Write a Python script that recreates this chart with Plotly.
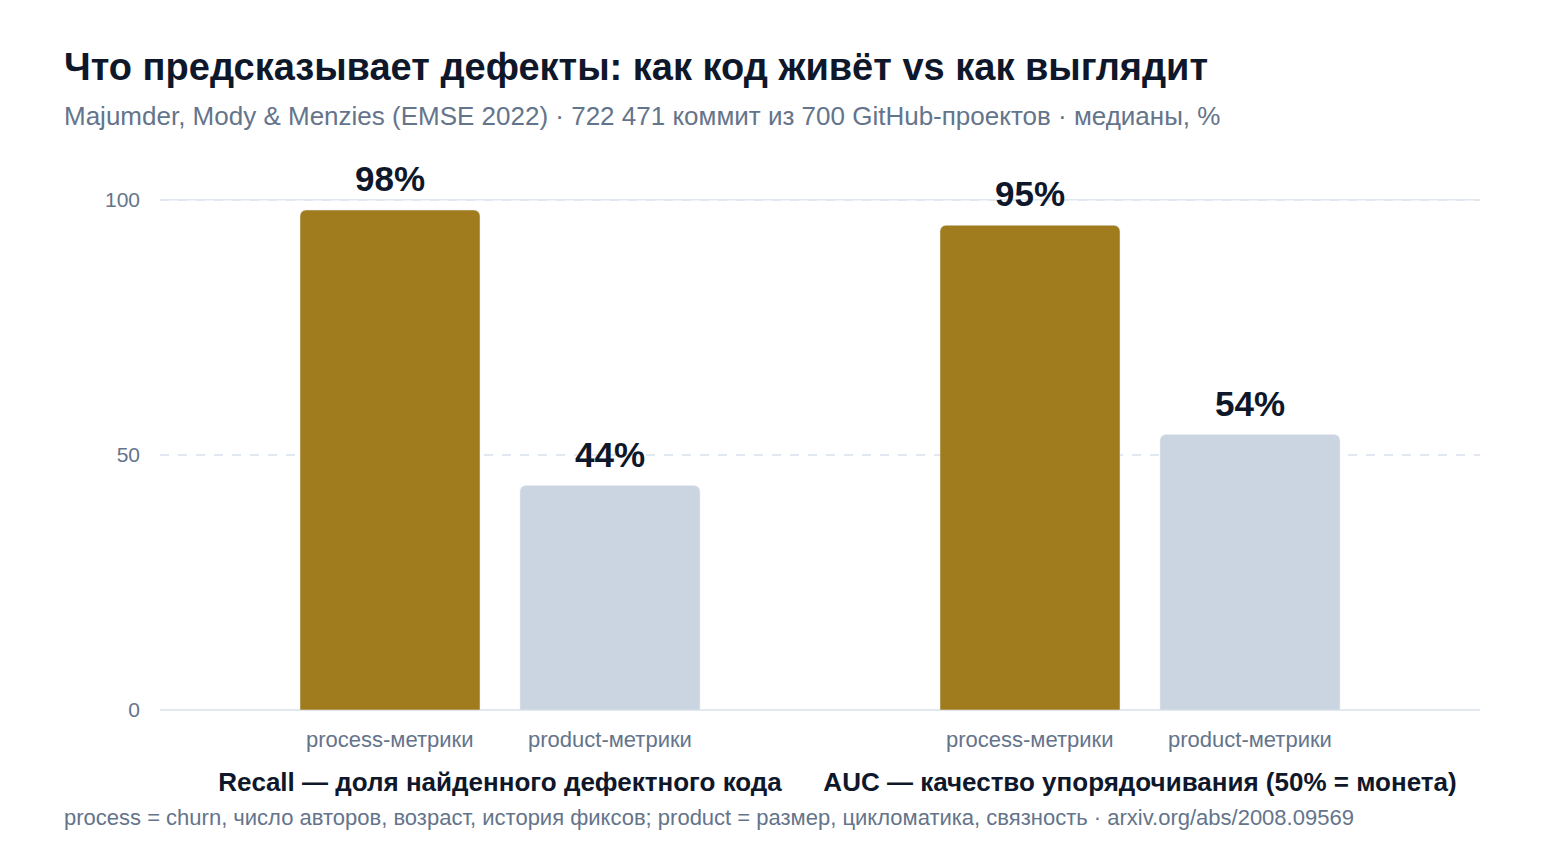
import plotly.graph_objects as go

# Data
groups = ["Recall — доля найденного дефектного кода",
          "AUC — качество упорядочивания (50% = монета)"]
series_names = ["process-метрики", "product-метрики"]
process_vals = [98, 95]
product_vals = [44, 54]
y_ticks = [0, 50, 100]

title = "Что предсказывает дефекты: как код живёт vs как выглядит"
subtitle = "Majumder, Mody & Menzies (EMSE 2022) · 722 471 коммит из 700 GitHub-проектов · медианы, %"
footer = ("process = churn, число авторов, возраст, история фиксов; "
          "product = размер, цикломатика, связность · arxiv.org/abs/2008.09569")

FONT = "Liberation Sans, Arial, sans-serif"
DARK = "#0f172a"
MUTED = "#64748b"
GRID = "#e2e8f0"
colors = ["#a07c1e", "#cbd5e1"]

W, H = 1560, 860
PAD = 8  # page body margin in the browser
M = dict(l=160 - PAD, r=80 + PAD, t=159 - PAD, b=150 + PAD)

def px_to_paper(px, py):
    # pixel position on the screenshot -> paper coordinates
    return ((px - PAD - M["l"]) / (W - M["l"] - M["r"]),
            (H - M["b"] - (py - PAD)) / (H - M["t"] - M["b"]))

# bar geometry in category units (640 px per category)
bar_w = 0.28125
offsets = [-0.3125, 0.03125]
label_shift = [-110, 110]

fig = go.Figure()
for name, vals, col, off in zip(series_names, [process_vals, product_vals], colors, offsets):
    fig.add_trace(go.Bar(x=groups, y=vals, name=name, marker=dict(color=col, cornerradius=6),
                         width=bar_w, offset=off, hoverinfo="skip"))

annotations = []
# value labels above bars and series labels under them
for vals, shift, sname in zip([process_vals, product_vals], label_shift, series_names):
    for g, v in zip(groups, vals):
        annotations.append(dict(x=g, y=v, xref="x", yref="y", text=f"{v}%", showarrow=False,
                                xshift=shift, yanchor="bottom", yshift=10,
                                font=dict(family=FONT, size=35, color=DARK, weight="bold")))
        annotations.append(dict(x=g, y=0, xref="x", yref="paper", text=sname, showarrow=False,
                                xshift=shift, yanchor="top", yshift=-15,
                                font=dict(family=FONT, size=22, color=MUTED)))

sx, sy = px_to_paper(62, 116)
annotations.append(dict(x=sx, y=sy, xref="paper", yref="paper", text=subtitle,
                        showarrow=False, xanchor="left", yanchor="middle",
                        font=dict(family=FONT, size=26, color=MUTED)))
fx, fy = px_to_paper(62, 817)
annotations.append(dict(x=fx, y=fy, xref="paper", yref="paper", text=footer,
                        showarrow=False, xanchor="left", yanchor="middle",
                        font=dict(family=FONT, size=22, color=MUTED)))

fig.add_hline(y=100, line=dict(color=GRID, width=1.5), layer="below")

fig.update_layout(
    width=W, height=H,
    paper_bgcolor="white", plot_bgcolor="white",
    margin=M,
    showlegend=False,
    title=dict(text=f"<b>{title}</b>", x=(64 - PAD) / W, xref="container", xanchor="left",
               y=1 - (67 - PAD) / H, yref="container", yanchor="middle",
               font=dict(family=FONT, size=38, color=DARK)),
    annotations=annotations,
    font=dict(family=FONT),
)
fig.update_xaxes(type="category", range=[-0.53125, 1.53125], showgrid=False, showline=False,
                 ticks="", ticklabelstandoff=54,
                 tickfont=dict(family=FONT, size=26, color=DARK, weight="bold"))
fig.update_yaxes(range=[0, 108], tickvals=y_ticks, showgrid=True, gridcolor=GRID, griddash="dash",
                 gridwidth=1.5, zeroline=True, zerolinecolor=GRID, zerolinewidth=1.5,
                 ticks="", ticklabelstandoff=19, tickfont=dict(family=FONT, size=21, color=MUTED))

fig.write_html("out.html")
